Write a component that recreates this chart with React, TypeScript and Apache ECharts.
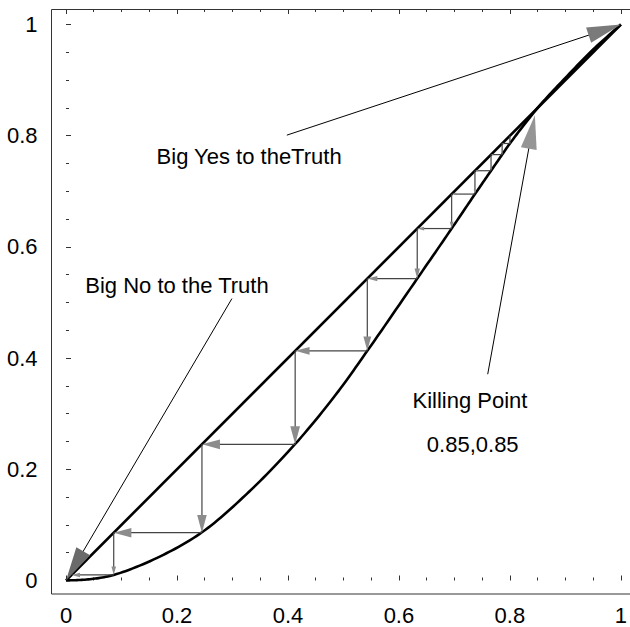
import React, { useEffect, useRef } from "react";
import * as echarts from "echarts";

// ---- data ----
const diagonalX = [0, 1];
const diagonalY = [0, 1];
const curveX = [0, 0.04, 0.086, 0.169, 0.245, 0.324, 0.413, 0.486, 0.543, 0.633, 0.695, 0.737, 0.766, 0.786, 0.8, 0.85, 0.9, 0.95, 1];
const curveY = [0, 0.002, 0.01, 0.043, 0.0867, 0.154, 0.2455, 0.334, 0.413, 0.543, 0.633, 0.695, 0.737, 0.766, 0.786, 0.85, 0.904, 0.955, 1];
// cobweb iterates (x_n -> x_{n+1} = f(x_n))
const cobweb = [0.8, 0.786, 0.766, 0.737, 0.695, 0.633, 0.543, 0.413, 0.245, 0.086, 0.01];
const labelTexts = ["Big Yes to theTruth", "Big No to the Truth", "Killing Point", "0.85,0.85"];
const labelX = [0.33, 0.2, 0.728, 0.733];
const labelY = [0.762, 0.531, 0.323, 0.244];
const pointerFromX = [0.398, 0.299, 0.76];
const pointerFromY = [0.801, 0.507, 0.371];
const pointerToX = [1, 0, 0.845];
const pointerToY = [1, 0, 0.837];

const FONT = "'Liberation Sans', Arial, Helvetica, sans-serif";

// centripetal Catmull-Rom through pixel points (rendering only)
function splinePoints(pts: number[][], steps = 14): number[][] {
  const n = pts.length;
  if (n < 2) return pts;
  const ext = [
    [2 * pts[0][0] - pts[1][0], 2 * pts[0][1] - pts[1][1]],
    ...pts,
    [2 * pts[n - 1][0] - pts[n - 2][0], 2 * pts[n - 1][1] - pts[n - 2][1]],
  ];
  const out: number[][] = [pts[0]];
  const knot = (a: number[], b: number[]) => Math.max(1e-4, Math.pow(Math.hypot(b[0] - a[0], b[1] - a[1]), 0.5));
  const lerp = (a: number[], b: number[], ta: number, tb: number, t: number) => {
    const w = (t - ta) / (tb - ta);
    return [a[0] + (b[0] - a[0]) * w, a[1] + (b[1] - a[1]) * w];
  };
  for (let i = 1; i < ext.length - 2; i++) {
    const P0 = ext[i - 1], P1 = ext[i], P2 = ext[i + 1], P3 = ext[i + 2];
    const t0 = 0;
    const t1 = t0 + knot(P0, P1);
    const t2 = t1 + knot(P1, P2);
    const t3 = t2 + knot(P2, P3);
    for (let s = 1; s <= steps; s++) {
      const t = t1 + ((t2 - t1) * s) / steps;
      const A1 = lerp(P0, P1, t0, t1, t);
      const A2 = lerp(P1, P2, t1, t2, t);
      const A3 = lerp(P2, P3, t2, t3, t);
      const B1 = lerp(A1, A2, t0, t2, t);
      const B2 = lerp(A2, A3, t1, t3, t);
      out.push(lerp(B1, B2, t1, t2, t));
    }
  }
  return out;
}

function arrowRenderer(kind: "cobweb" | "pointer") {
  const headColors = ["#7a7a7a", "#6a6a6a", "#959595"];
  return (params: any, api: any) => {
    const p1 = api.coord([api.value(0), api.value(1)]);
    const p2 = api.coord([api.value(2), api.value(3)]);
    const dx = p2[0] - p1[0];
    const dy = p2[1] - p1[1];
    const len = Math.hypot(dx, dy) || 1;
    const ux = dx / len;
    const uy = dy / len;
    let head: number, half: number, lineColor: string, headColor: string, lw: number;
    if (kind === "cobweb") {
      head = Math.min(18, len * 0.2);
      half = head * 0.27;
      lineColor = "#444";
      headColor = "#8c8c8c";
      lw = 1.2;
    } else {
      head = 34;
      half = 8;
      lineColor = "#000";
      headColor = headColors[params.dataIndex] || "#777";
      lw = 1;
    }
    const bx = p2[0] - ux * head;
    const by = p2[1] - uy * head;
    return {
      type: "group",
      children: [
        {
          type: "line",
          shape: { x1: p1[0], y1: p1[1], x2: bx + ux * 2, y2: by + uy * 2 },
          style: { stroke: lineColor, lineWidth: lw },
        },
        {
          type: "polygon",
          shape: {
            points: [
              [p2[0], p2[1]],
              [bx - uy * half, by + ux * half],
              [bx + uy * half, by - ux * half],
            ],
          },
          style: { fill: headColor },
        },
      ],
    };
  };
}

export default function App() {
  const ref = useRef<HTMLDivElement>(null);
  useEffect(() => {
    if (!ref.current) return;
    const chart = echarts.init(ref.current, undefined, { renderer: "svg" });

    const cobwebArrows: number[][] = [];
    for (let i = 0; i < cobweb.length - 1; i++) {
      const a = cobweb[i];
      const b = cobweb[i + 1];
      cobwebArrows.push([a, a, a, b]);
      cobwebArrows.push([a, b, b, b]);
    }
    const pointerArrows = pointerFromX.map((x, i) => [x, pointerFromY[i], pointerToX[i], pointerToY[i]]);
    const labels = labelTexts.map((t, i) => [labelX[i], labelY[i], t]);
    const curveData = curveX.map((x, i) => [x, curveY[i]]);

    const tickStyle = { color: "#333", width: 1 };
    const axisCommon = {
      type: "value" as const,
      min: 0,
      max: 1,
      interval: 0.2,
      splitLine: { show: false },
      axisLine: { show: false },
      axisTick: { show: true, inside: true, length: 5, lineStyle: tickStyle },
      minorTick: { show: true, splitNumber: 4, length: 3, lineStyle: tickStyle },
    };

    chart.setOption({
      animation: false,
      backgroundColor: "#fff",
      grid: { left: 66, right: 6.5, top: 24.5, bottom: 46.5, containLabel: false },
      xAxis: [
        {
          ...axisCommon,
          position: "bottom",
          offset: 13.5,
          axisLabel: { show: true, fontSize: 22, color: "#000", fontFamily: FONT, margin: 10 },
        },
        {
          ...axisCommon,
          position: "top",
          offset: 15.5,
          axisLabel: { show: false },
        },
      ],
      yAxis: [
        {
          ...axisCommon,
          position: "left",
          offset: 15,
          axisLabel: { show: true, fontSize: 22, color: "#000", fontFamily: FONT, margin: 13.5 },
        },
      ],
      graphic: [
        {
          type: "rect",
          shape: { x: 51.5, y: 9.5, width: 590, height: 584.5 },
          style: { fill: "none", stroke: "#333", lineWidth: 1 },
          silent: true,
          z: 10,
        },
      ],
      series: [
        {
          type: "line",
          data: diagonalX.map((x, i) => [x, diagonalY[i]]),
          showSymbol: false,
          clip: false,
          lineStyle: { color: "#000", width: 2.6 },
          z: 2,
        },
        {
          type: "custom",
          data: curveData,
          clip: false,
          z: 2,
          renderItem: (params: any, api: any) => {
            if (params.dataIndex !== 0) return null;
            const pts = curveData.map((d) => api.coord(d));
            return {
              type: "polyline",
              shape: { points: splinePoints(pts) },
              style: { stroke: "#000", lineWidth: 2.6, fill: "none", lineJoin: "round" },
            };
          },
        },
        {
          type: "custom",
          data: cobwebArrows,
          renderItem: arrowRenderer("cobweb"),
          clip: false,
          z: 3,
        },
        {
          type: "custom",
          data: pointerArrows,
          renderItem: arrowRenderer("pointer"),
          clip: false,
          z: 4,
        },
        {
          type: "custom",
          data: labels,
          clip: false,
          z: 5,
          renderItem: (params: any, api: any) => {
            const p = api.coord([api.value(0), api.value(1)]);
            return {
              type: "text",
              x: p[0],
              y: p[1],
              style: {
                text: labelTexts[params.dataIndex],
                fill: "#000",
                font: `22px ${FONT}`,
                align: "center",
                verticalAlign: "middle",
              },
            };
          },
        },
      ],
    });
    return () => chart.dispose();
  }, []);

  return (
    <div
      ref={ref}
      style={{ position: "fixed", left: 0, top: 0, width: 630, height: 627, background: "#fff" }}
    />
  );
}
